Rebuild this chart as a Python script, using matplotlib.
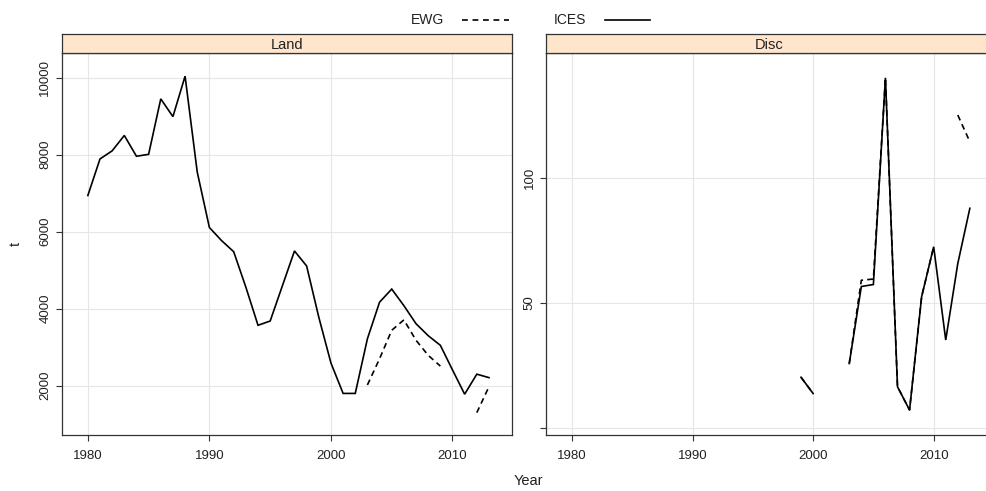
import numpy as np
import matplotlib
matplotlib.use("Agg")
import matplotlib.pyplot as plt

plt.rcParams['font.family'] = ['Liberation Sans', 'DejaVu Sans']

years = list(range(1980, 2014))
nan = np.nan

# Landings (t)
land_ices = [6940, 7890, 8100, 8500, 7960, 8010, 9450, 8990, 10040, 7550,
             6110, 5770, 5480, 4560, 3570, 3680, 4590, 5500, 5110, 3780,
             2590, 1800, 1800, 3220, 4170, 4510, 4080, 3610, 3300, 3050,
             2410, 1780, 2300, 2210]
land_ewg = [nan] * 23 + [2020, 2700, 3440, 3710, 3180, 2790, 2510,
                         nan, nan, 1300, 1975]

# Discards (t)
disc_ices = [nan] * 19 + [20.2, 13.7, nan, nan, 25.7, 56.5, 57.3, 140.0,
                          16.4, 7.1, 52.4, 72.4, 35.1, 65.7, 87.8]
disc_ewg = [nan] * 19 + [20.2, 13.7, nan, nan, 25.7, 59.0, 59.5, 140.0,
                         16.4, 7.1, 52.4, 72.4, nan, 125.1, 114.4]

panels = ["Land", "Disc"]
x_ticks = [1980, 1990, 2000, 2010]
land_yticks = [2000, 4000, 6000, 8000, 10000]
disc_yticks = [0, 50, 100]
disc_ylabels = ["", "50", "100"]

W, H = 987, 491
fig = plt.figure(figsize=(W / 100, H / 100), dpi=100)

def fx(px):
    return px / W

def fy(py):
    return 1 - py / H

top, bot = 53.3, 435.0
strip_top = 34.3
strip_col = "#FFE5CC"
grid_col = "#E6E6E6"
axis_col = "#333333"

specs = [
    (61.7, 512.3, land_ices, land_ewg, (720, 10634), land_yticks,
     [str(v) for v in land_yticks]),
    (546.0, 993.0, disc_ices, disc_ewg, (-2.9, 149.8), disc_yticks,
     disc_ylabels),
]

for (x0, x1, ices, ewg, ylim, yt, ytl), name in zip(specs, panels):
    ax = fig.add_axes([fx(x0), fy(bot), fx(x1 - x0), fy(top) - fy(bot)])
    ax.plot(years, ices, color="black", lw=1.2, solid_joinstyle="miter")
    ax.plot(years, ewg, color="black", lw=1.2, dashes=(3.5, 2.5))
    ax.set_xlim(1977.85, 2014.92)
    ax.set_ylim(*ylim)
    ax.set_xticks(x_ticks)
    ax.set_xticklabels([str(v) for v in x_ticks])
    ax.set_yticks(yt)
    ax.set_yticklabels(ytl, rotation=90, va="center")
    ax.grid(True, color=grid_col, lw=0.8)
    ax.set_axisbelow(True)
    for s in ax.spines.values():
        s.set_color(axis_col)
        s.set_linewidth(0.9)
    ax.tick_params(axis="both", direction="out", length=4.5, width=0.8,
                   color=axis_col, labelsize=9.5, labelcolor="#222222")
    ax.tick_params(axis="x", pad=6)
    ax.tick_params(axis="y", pad=3)
    # strip
    sax = fig.add_axes([fx(x0), fy(top), fx(x1 - x0), fy(strip_top) - fy(top)])
    sax.set_facecolor(strip_col)
    sax.set_xticks([])
    sax.set_yticks([])
    for s in sax.spines.values():
        s.set_color(axis_col)
        s.set_linewidth(0.9)
    sax.text(0.5, 0.45, name, transform=sax.transAxes, ha="center",
             va="center", fontsize=10.5, color="#222222")

# Legend at top
fig.text(fx(428), fy(20), "EWG", ha="center", va="center", fontsize=10,
         color="#222222")
fig.add_artist(plt.Line2D([fx(462), fx(509)], [fy(20), fy(20)],
                          color="black", lw=1.2, dashes=(3.5, 2.8)))
fig.text(fx(570), fy(20), "ICES", ha="center", va="center", fontsize=10,
         color="#222222")
fig.add_artist(plt.Line2D([fx(605), fx(650)], [fy(20), fy(20)],
                          color="black", lw=1.2))

fig.text(fx(528), fy(481), "Year", ha="center", va="center", fontsize=10.5,
         color="#222222")
fig.text(fx(16), fy(244), "t", ha="center", va="center", fontsize=10.5,
         rotation=90, color="#222222")

fig.savefig("out.png", dpi=100)
